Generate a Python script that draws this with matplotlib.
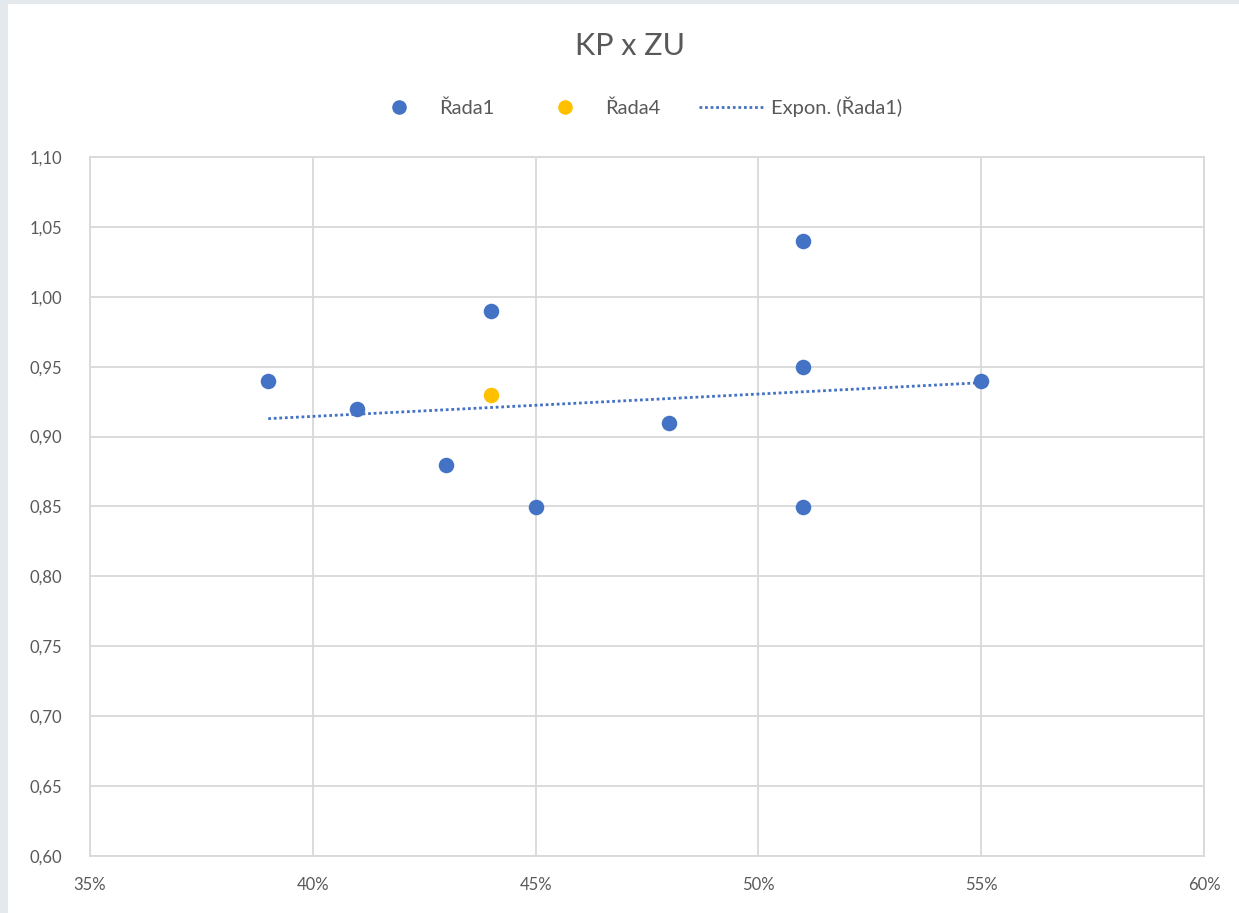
import matplotlib
matplotlib.use("Agg")
import matplotlib.pyplot as plt
import numpy as np
from matplotlib.lines import Line2D
from matplotlib.patches import Rectangle
from matplotlib.ticker import FuncFormatter, MultipleLocator

plt.rcParams["font.family"] = ["Lato", "DejaVu Sans"]

# series
rada1_x = [0.39, 0.41, 0.43, 0.44, 0.45, 0.48, 0.51, 0.51, 0.51, 0.55]
rada1_y = [0.94, 0.92, 0.88, 0.99, 0.85, 0.91, 1.04, 0.95, 0.85, 0.94]
rada4_x = [0.44]
rada4_y = [0.93]

BLUE = "#4472C4"
ORANGE = "#FFC000"
GRID = "#D9D9D9"
TXT = "#595959"

fig = plt.figure(figsize=(12.39, 9.13), dpi=100)
fig.patch.set_facecolor("#E4E9EE")
fig.patches.append(Rectangle((8 / 1239, 0), 1 - 8 / 1239, 1 - 4 / 913, transform=fig.transFigure,
                             facecolor="white", edgecolor="none", zorder=-5))

ax = fig.add_axes([90 / 1239, 1 - 856 / 913, (1204 - 90) / 1239, (856 - 157) / 913])
ax.set_xlim(0.35, 0.60); ax.set_ylim(0.60, 1.10)
ax.xaxis.set_major_locator(MultipleLocator(0.05))
ax.yaxis.set_major_locator(MultipleLocator(0.05))
ax.xaxis.set_major_formatter(FuncFormatter(lambda v, p: f"{v*100:.0f}%"))
ax.yaxis.set_major_formatter(FuncFormatter(lambda v, p: f"{v:.2f}".replace(".", ",")))
ax.grid(color=GRID, lw=1.3, zorder=0)
ax.set_axisbelow(True)
for s in ax.spines.values():
    s.set_color(GRID); s.set_linewidth(1.3)
ax.tick_params(length=0, labelsize=12, colors=TXT)
ax.tick_params(axis="y", pad=20)
ax.tick_params(axis="x", pad=15)

# exponential trend line (Excel "Expon.") fitted to Řada1
b, lna = np.polyfit(rada1_x, np.log(rada1_y), 1)
tx = np.linspace(min(rada1_x), max(rada1_x), 50)
ax.plot(tx, np.exp(lna) * np.exp(b * tx), color=BLUE, lw=2, ls=(0, (1, 1)), zorder=2)

ax.scatter(rada1_x, rada1_y, s=125, color=BLUE, zorder=3, linewidths=0)
ax.scatter(rada4_x, rada4_y, s=125, color=ORANGE, zorder=3, linewidths=0)

fig.text(630 / 1239, 1 - 46 / 913, "KP x ZU", ha="center", va="center", fontsize=22, color=TXT)

handles = [Line2D([], [], ls="none", marker="o", ms=10.5, color=BLUE, mec="none"),
           Line2D([], [], ls="none", marker="o", ms=10.5, color=ORANGE, mec="none"),
           Line2D([], [], color=BLUE, lw=2, ls=(0, (1, 1)))]
fig.legend(handles, ["Řada1", "Řada4", "Expon. (Řada1)"], loc="center",
           bbox_to_anchor=(0.512, 1 - 107 / 913), ncol=3, frameon=False, fontsize=14.5,
           labelcolor=TXT, columnspacing=1.9, handlelength=3.2, handletextpad=0.4)

fig.savefig("out.png", dpi=100)
